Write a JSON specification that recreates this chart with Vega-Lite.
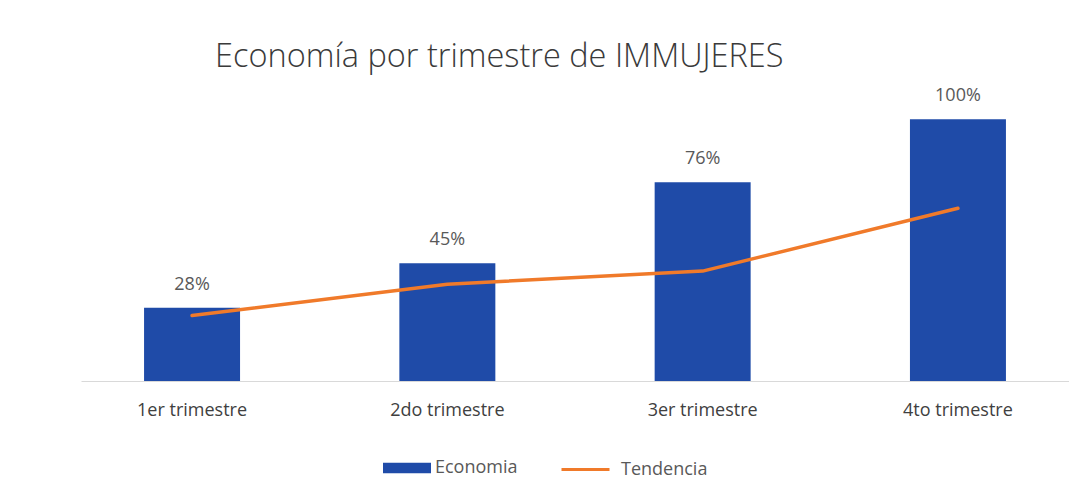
{
  "$schema": "https://vega.github.io/schema/vega-lite/v6.json",
  "width": 988,
  "height": 314,
  "autosize": {"type": "none"},
  "padding": {"left": 81, "top": 67, "right": 0, "bottom": 123},
  "background": "#ffffff",
  "title": {
    "text": "Economía por trimestre de IMMUJERES",
    "anchor": "start",
    "frame": "group",
    "dx": 134,
    "offset": 0,
    "dy": 6,
    "fontSize": 32.5,
    "font": "Open Sans",
    "fontWeight": 300,
    "color": "#3a3a3a"
  },
  "data": {
    "values": [
      {"trimestre": "1er trimestre", "economia": 0.28, "tendencia": 0.25},
      {"trimestre": "2do trimestre", "economia": 0.45, "tendencia": 0.37},
      {"trimestre": "3er trimestre", "economia": 0.76, "tendencia": 0.42},
      {"trimestre": "4to trimestre", "economia": 1.0, "tendencia": 0.66}
    ]
  },
  "encoding": {
    "x": {
      "field": "trimestre",
      "type": "nominal",
      "sort": null,
      "scale": {"paddingInner": 0.624, "paddingOuter": 0.247},
      "axis": {
        "title": null,
        "labelAngle": 0,
        "ticks": false,
        "domainColor": "#d9d9d9",
        "domainWidth": 1,
        "labelFontSize": 18,
        "labelFont": "Open Sans",
        "labelColor": "#404040",
        "labelPadding": 20
      }
    }
  },
  "layer": [
    {
      "mark": {"type": "bar", "clip": false},
      "encoding": {
        "y": {
          "field": "economia",
          "type": "quantitative",
          "scale": {"domain": [0, 1.2]},
          "axis": null
        },
        "fill": {
          "datum": "Economia",
          "type": "nominal",
          "scale": {"range": ["#1f4ba8"]},
          "legend": {
            "title": null,
            "orient": "none",
            "legendX": 302,
            "legendY": 377,
            "symbolType": "M-1,-0.22H1V0.22H-1Z",
            "symbolSize": 2304,
            "symbolStrokeWidth": 0,
            "labelFontSize": 18,
            "labelFont": "Open Sans",
            "labelColor": "#595959",
            "labelOffset": 4
          }
        }
      }
    },
    {
      "mark": {"type": "text", "baseline": "bottom", "dy": -14, "fontSize": 18, "font": "Open Sans", "color": "#595959"},
      "encoding": {
        "y": {"field": "economia", "type": "quantitative"},
        "text": {"field": "economia", "type": "quantitative", "format": ".0%"}
      }
    },
    {
      "mark": {"type": "line", "interpolate": "linear", "strokeWidth": 3.5, "strokeCap": "round", "strokeJoin": "round"},
      "encoding": {
        "y": {"field": "tendencia", "type": "quantitative"},
        "stroke": {
          "datum": "Tendencia",
          "type": "nominal",
          "scale": {"range": ["#f07a2a"]},
          "legend": {
            "title": null,
            "orient": "none",
            "legendX": 479,
            "legendY": 377,
            "symbolType": "stroke",
            "symbolSize": 2304,
            "symbolStrokeWidth": 3,
            "labelFontSize": 18,
            "labelFont": "Open Sans",
            "labelColor": "#595959",
            "labelOffset": 10
          }
        }
      }
    }
  ],
  "config": {
    "view": {"stroke": null}
  }
}
